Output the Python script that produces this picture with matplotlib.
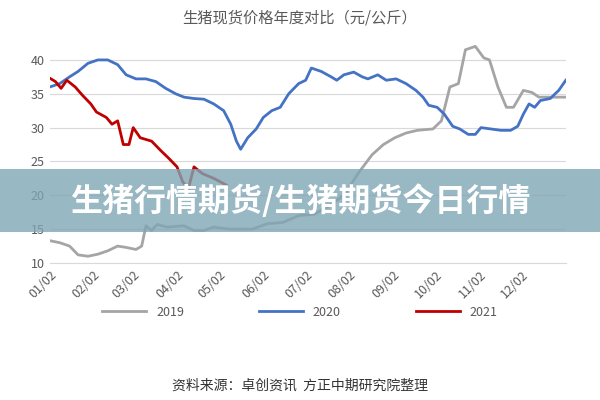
import matplotlib.pyplot as plt
from matplotlib.patches import Rectangle

plt.rcParams['font.family'] = ['Noto Sans CJK SC', 'DejaVu Sans']

# 日期按 1月2日起的天数
days_2019 = [0, 7, 14, 20, 27, 34, 41, 48, 54, 61, 65, 68, 72, 76, 83, 95, 102, 109, 116, 127,
             143, 154, 165, 176, 187, 198, 208, 219, 228, 236, 244, 252, 260, 271, 277, 283, 289,
             294, 301, 307, 311, 317, 323, 328, 335, 341, 346, 356, 365]
price_2019 = [13.3, 13.0, 12.5, 11.2, 11.0, 11.3, 11.8, 12.5, 12.3, 12.0, 12.5, 15.5, 14.8, 15.7,
              15.3, 15.5, 14.8, 14.8, 15.3, 15.0, 15.0, 15.8, 16.0, 17.0, 17.2, 18.5, 20.0, 23.5,
              26.0, 27.5, 28.5, 29.2, 29.6, 29.8, 31.0, 36.0, 36.5, 41.5, 42.0, 40.3, 40.0, 36.0,
              33.0, 33.0, 35.5, 35.2, 34.5, 34.5, 34.5]

days_2020 = [0, 7, 14, 20, 27, 34, 41, 48, 54, 61, 68, 75, 82, 89, 95, 102, 109, 116, 123, 128,
             132, 135, 140, 146, 151, 157, 163, 169, 176, 181, 185, 192, 199, 203, 208, 215, 221,
             225, 232, 238, 245, 252, 259, 264, 268, 274, 279, 285, 290, 296, 301, 305, 312, 319,
             326, 331, 335, 339, 343, 347, 354, 360, 365]
price_2020 = [36.0, 36.5, 37.5, 38.3, 39.5, 40.0, 40.0, 39.3, 37.8, 37.2, 37.2, 36.8, 35.8, 35.0,
              34.5, 34.3, 34.2, 33.5, 32.5, 30.5, 28.0, 26.8, 28.5, 29.8, 31.5, 32.5, 33.0, 35.0,
              36.5, 37.0, 38.8, 38.3, 37.5, 37.0, 37.8, 38.2, 37.5, 37.2, 37.8, 37.0, 37.2, 36.5,
              35.5, 34.5, 33.3, 33.0, 32.0, 30.2, 29.8, 29.0, 29.0, 30.0, 29.8, 29.6, 29.6, 30.2,
              32.0, 33.5, 33.0, 34.0, 34.3, 35.5, 37.0]

days_2021 = [0, 4, 8, 12, 18, 23, 29, 33, 40, 44, 48, 52, 56, 59, 64, 72, 79, 84, 90, 94, 98,
             102, 108, 116, 125]
price_2021 = [37.3, 36.8, 35.8, 37.0, 36.0, 34.8, 33.5, 32.3, 31.5, 30.5, 31.0, 27.5, 27.5, 30.0,
              28.5, 28.0, 26.5, 25.5, 24.2, 22.0, 21.0, 24.2, 23.2, 22.5, 21.5]

tick_days = [0, 31, 59, 90, 120, 151, 181, 212, 243, 273, 304, 334]
tick_labels = ['01/02', '02/02', '03/02', '04/02', '05/02', '06/02',
               '07/02', '08/02', '09/02', '10/02', '11/02', '12/02']

fig = plt.figure(figsize=(6, 4), dpi=100)
ax = fig.add_axes([0.083, 0.3425, 0.86, 0.55])

ax.plot(days_2019, price_2019, color='#a5a5a5', linewidth=2, label='2019')
ax.plot(days_2020, price_2020, color='#4472c4', linewidth=2, label='2020')
ax.plot(days_2021, price_2021, color='#c00000', linewidth=2, label='2021')

ax.set_xlim(0, 365)
ax.set_ylim(10, 42.5)
ax.set_yticks([10, 15, 20, 25, 30, 35, 40])
ax.set_xticks(tick_days)
ax.set_xticklabels(tick_labels, rotation=45, ha='right', rotation_mode='anchor')
ax.tick_params(colors='#595959', labelsize=9, length=0)
ax.grid(True, axis='y', color='#d9d9d9', linewidth=0.8)
for s in ['top', 'right', 'left']:
    ax.spines[s].set_visible(False)
ax.spines['bottom'].set_color('#d9d9d9')

fig.text(0.5, 0.955, '生猪现货价格年度对比（元/公斤）', ha='center', va='center',
         fontsize=11, color='#595959')
fig.legend(loc='center', bbox_to_anchor=(0.5, 0.22), ncol=3, frameon=False,
           fontsize=9, handlelength=3.5, columnspacing=6, labelcolor='#595959')
fig.text(0.5, 0.037, '资料来源：卓创资讯  方正中期研究院整理', ha='center', va='center',
         fontsize=10, color='#333333')

# 水印横幅
fig.patches.append(Rectangle((0, 0.42), 1, 0.158, transform=fig.transFigure,
                             facecolor='#7fa6b4', alpha=0.8, zorder=10))
fig.text(0.5, 0.497, '生猪行情期货/生猪期货今日行情', ha='center', va='center',
         fontsize=23, fontweight='bold', color='white', zorder=11)

fig.savefig('out.png', dpi=100)
